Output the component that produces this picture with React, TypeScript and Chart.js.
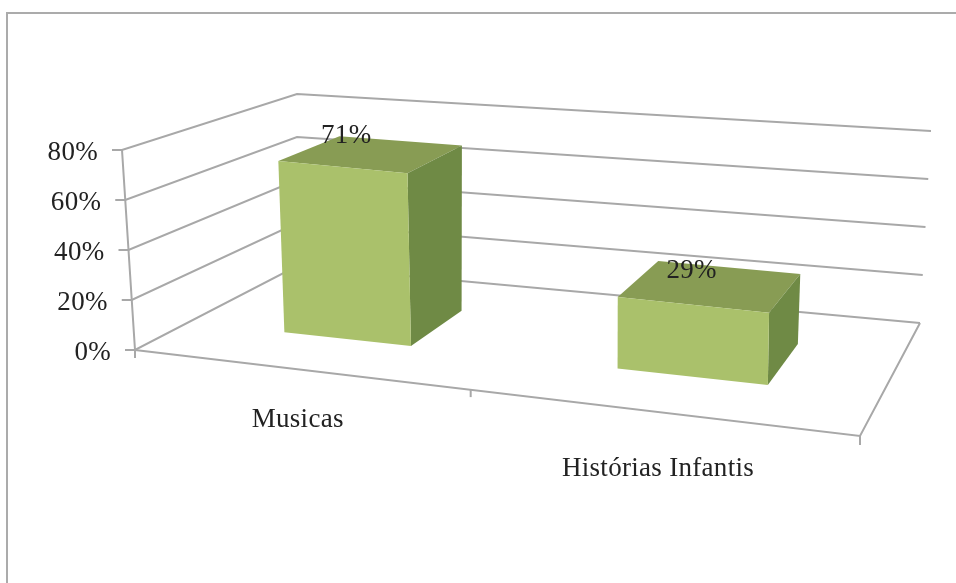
import React, { useEffect, useRef } from "react";
import { Chart, registerables } from "chart.js";

Chart.register(...registerables);

const categories = ["Musicas", "Histórias Infantis"];
const shares = [71, 29];
const axisMax = 80;
const axisStep = 20;

type Pt = [number, number];
// Floor of the 3D box: [front-left, front-right, back-right, back-left]
const floorQuad: Pt[] = [[135, 350], [860, 436], [920, 323], [297, 266]];
// Full-height vector rising from each of those floor corners
const riseQuad: Pt[] = [[-13, -200], [3, -204], [11, -192], [0, -172]];

const BAR_HALF_WIDTH = 0.1;
const BAR_SHIFT = 0.009;
const BAR_FRONT = 0.3;
const BAR_BACK = 0.68;

const FONT = '27px "Liberation Serif", serif';
const INK = "#222222";
const GRID = "#a8a8a8";
const FRONT = "#aac16b";
const SIDE = "#6f8a45";
const TOP = "#889c54";

function homography(q: Pt[]) {
  const [A, B, D, C] = q;
  const sx = A[0] - B[0] + D[0] - C[0];
  const sy = A[1] - B[1] + D[1] - C[1];
  const d1x = B[0] - D[0], d1y = B[1] - D[1];
  const d2x = C[0] - D[0], d2y = C[1] - D[1];
  const det = d1x * d2y - d2x * d1y;
  const g = (sx * d2y - d2x * sy) / det;
  const h = (d1x * sy - sx * d1y) / det;
  return (u: number, w: number): Pt => {
    const den = g * u + h * w + 1;
    return [
      ((B[0] * (1 + g) - A[0]) * u + (C[0] * (1 + h) - A[0]) * w + A[0]) / den,
      ((B[1] * (1 + g) - A[1]) * u + (C[1] * (1 + h) - A[1]) * w + A[1]) / den,
    ];
  };
}
const floorAt = homography(floorQuad);
const riseAt = (u: number, w: number, k: 0 | 1) => {
  const [a, b, d, c] = riseQuad;
  const front = a[k] + (b[k] - a[k]) * u;
  const back = c[k] + (d[k] - c[k]) * u;
  return front + (back - front) * w;
};
const project = (u: number, v: number, w: number): Pt => {
  const f = floorAt(u, w);
  return [f[0] + riseAt(u, w, 0) * v, f[1] + riseAt(u, w, 1) * v];
};

const box3dPlugin = {
  id: "box3d",
  afterDraw(chart: any) {
    const { ctx, chartArea: a, scales } = chart;
    const xs = scales.x, ys = scales.y;
    const uOf = (i: number) => (xs.getPixelForValue(i) - a.left) / a.width;
    const vOf = (val: number) => (a.bottom - ys.getPixelForValue(val)) / a.height;
    const line = (pts: Pt[]) => {
      ctx.beginPath();
      pts.forEach((p, i) => (i ? ctx.lineTo(p[0], p[1]) : ctx.moveTo(p[0], p[1])));
      ctx.stroke();
    };
    const poly = (pts: Pt[], fill: string) => {
      ctx.beginPath();
      pts.forEach((p, i) => (i ? ctx.lineTo(p[0], p[1]) : ctx.moveTo(p[0], p[1])));
      ctx.closePath();
      ctx.fillStyle = fill;
      ctx.fill();
    };

    ctx.save();
    // frame
    ctx.strokeStyle = "#ababab";
    ctx.lineWidth = 2;
    line([[7, 583], [7, 13], [956, 13]]);

    // walls, floor and y ticks
    ctx.strokeStyle = GRID;
    ctx.lineWidth = 2;
    ctx.font = FONT;
    ctx.letterSpacing = "0.3px";
    ctx.fillStyle = INK;
    ctx.textBaseline = "middle";
    ys.ticks.forEach((t: any) => {
      const v = vOf(t.value);
      const fl = project(0, v, 0);
      line([[fl[0] - 10, fl[1]], fl, project(0, v, 1), project(1, v, 1)]);
      ctx.textAlign = "right";
      ctx.fillText(`${t.value}%`, fl[0] - 24, fl[1] + 3);
    });
    const o = project(0, 0, 0);
    line([project(0, 1, 0), o, [o[0], o[1] + 8]]);
    const fr = project(1, 0, 0);
    line([o, fr, project(1, 0, 1)]);
    line([fr, [fr[0], fr[1] + 9]]);
    const mid = project(0.5, 0, 0);
    line([[mid[0] + 6, mid[1] + 1], [mid[0] + 6, mid[1] + 8]]);

    // bars
    chart.data.datasets[0].data.forEach((val: number, i: number) => {
      const c = uOf(i) + BAR_SHIFT;
      const l = c - BAR_HALF_WIDTH, r = c + BAR_HALF_WIDTH;
      const v = vOf(val);
      const p = project;
      poly([p(l, v, BAR_FRONT), p(l, v, BAR_BACK), p(r, v, BAR_BACK), p(r, v, BAR_FRONT)], TOP);
      poly([p(r, 0, BAR_FRONT), p(r, 0, BAR_BACK), p(r, v, BAR_BACK), p(r, v, BAR_FRONT)], SIDE);
      poly([p(l, 0, BAR_FRONT), p(r, 0, BAR_FRONT), p(r, v, BAR_FRONT), p(l, v, BAR_FRONT)], FRONT);
    });

    // value and category labels
    ctx.fillStyle = INK;
    ctx.textAlign = "center";
    chart.data.datasets[0].data.forEach((val: number, i: number) => {
      const u = uOf(i);
      const lab = project(u, vOf(val), BAR_BACK);
      ctx.fillText(`${val}%`, lab[0] - 57 + 36 * u, lab[1] - 9 + 18 * u);
      const cat = project(u, 0, 0);
      ctx.fillText(chart.data.labels[i], cat[0] + 5, cat[1] + 48 + 12 * u);
    });
    ctx.restore();
  },
};

export default function App() {
  const ref = useRef<HTMLCanvasElement>(null);
  useEffect(() => {
    document.body.style.margin = "0";
    const chart = new Chart(ref.current as HTMLCanvasElement, {
      type: "bar",
      data: {
        labels: categories,
        datasets: [{ data: shares, backgroundColor: "transparent" }],
      },
      options: {
        animation: false,
        responsive: false,
        layout: { padding: { left: 135, right: 96, top: 150, bottom: 233 } },
        plugins: { legend: { display: false }, tooltip: { enabled: false } },
        scales: {
          x: { display: false, type: "category" },
          y: { display: false, min: 0, max: axisMax, ticks: { stepSize: axisStep } },
        },
      },
      plugins: [box3dPlugin],
    });
    return () => chart.destroy();
  }, []);
  return <canvas ref={ref} width={956} height={583} style={{ display: "block", background: "#fff" }} />;
}
